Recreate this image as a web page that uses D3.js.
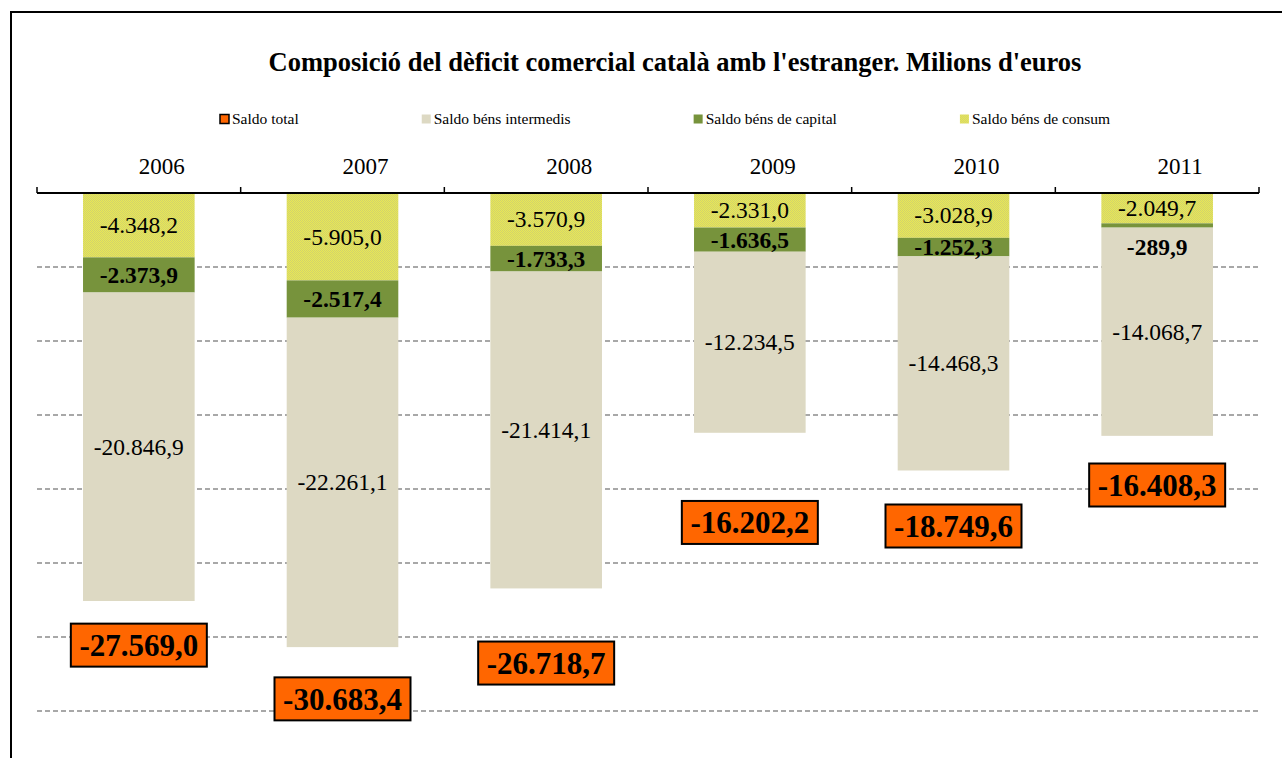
<!DOCTYPE html>
<html>
<head>
<meta charset="utf-8">
<script src="https://cdn.jsdelivr.net/npm/d3@7"></script>
<style>
  body { margin: 0; background: #fff; }
  svg { display: block; font-family: "Liberation Serif", "Times New Roman", serif; }
</style>
</head>
<body>
<svg id="chart"></svg>
<script>
// data
const years = ['2006', '2007', '2008', '2009', '2010', '2011'];
const consum = [-4348.2, -5905.0, -3570.9, -2331.0, -3028.9, -2049.7];
const capital = [-2373.9, -2517.4, -1733.3, -1636.5, -1252.3, -289.9];
const intermedis = [-20846.9, -22261.1, -21414.1, -12234.5, -14468.3, -14068.7];
const total = [-27569.0, -30683.4, -26718.7, -16202.2, -18749.6, -16408.3];
// where the total labels sit (value units), placed by hand in the original
const totalLabelAt = [-30550, -34180, -31760, -22260, -22500, -19730];
const gridTicks = [-5000, -10000, -15000, -20000, -25000, -30000, -35000];

const seriesNames = ['Saldo total', 'Saldo béns intermedis', 'Saldo béns de capital', 'Saldo béns de consum'];

const W = 1282, H = 758;
const svg = d3.select('#chart').attr('width', W).attr('height', H);

const defs = svg.append('defs');
const pat = defs.append('pattern').attr('id', 'hatch')
  .attr('width', 2).attr('height', 2).attr('patternUnits', 'userSpaceOnUse');
pat.append('rect').attr('width', 2).attr('height', 2).attr('fill', '#e9e955');
pat.append('rect').attr('width', 1).attr('height', 1).attr('fill', '#d2d26c');
pat.append('rect').attr('x', 1).attr('y', 1).attr('width', 1).attr('height', 1).attr('fill', '#d2d26c');

const colors = {
  total: '#ff6600',
  intermedis: '#ddd9c3',
  capital: '#77933c',
  consum: 'url(#hatch)'
};

// border
svg.append('rect').attr('x', 11).attr('y', 12).attr('width', W).attr('height', H)
  .attr('fill', 'none').attr('stroke', '#000').attr('stroke-width', 2);

// title
svg.append('text')
  .attr('x', 675).attr('y', 71)
  .attr('text-anchor', 'middle')
  .style('font-size', '26.5px').style('font-weight', 'bold')
  .text("Composició del dèficit comercial català amb l'estranger. Milions d'euros");

const x0 = 37, x1 = 1259;
const xs = d3.scaleBand().domain(years).range([x0, x1]).paddingInner(0.452).paddingOuter(0.226);
const ys = d3.scaleLinear().domain([0, -35000]).range([193, 711]);

// gridlines
svg.append('g').selectAll('line').data(gridTicks).enter().append('line')
  .attr('x1', x0).attr('x2', x1)
  .attr('y1', d => ys(d)).attr('y2', d => ys(d))
  .attr('stroke', '#8c8c8c').attr('stroke-width', 1.5).attr('stroke-dasharray', '5,3');

// stacked bars (negative values, consum on top)
const rows = years.map((y, i) => ({ year: y, consum: consum[i], capital: capital[i], intermedis: intermedis[i] }));
const keys = ['consum', 'capital', 'intermedis'];
const layers = d3.stack().keys(keys).offset(d3.stackOffsetDiverging)(rows);

const bars = svg.append('g');
layers.forEach(layer => {
  bars.selectAll('rect.' + layer.key).data(layer).enter().append('rect')
    .attr('class', layer.key)
    .attr('x', d => xs(d.data.year))
    .attr('width', xs.bandwidth())
    .attr('y', d => ys(d[1]))
    .attr('height', d => ys(d[0]) - ys(d[1]))
    .attr('fill', colors[layer.key]);
});

// segment labels
const fmt = v => {
  const s = Math.abs(v).toFixed(1).split('.');
  const intPart = s[0].replace(/\B(?=(\d{3})+(?!\d))/g, '.');
  return (v < 0 ? '-' : '') + intPart + ',' + s[1];
};
layers.forEach(layer => {
  bars.selectAll('text.' + layer.key).data(layer).enter().append('text')
    .attr('class', layer.key)
    .attr('x', d => xs(d.data.year) + xs.bandwidth() / 2)
    .attr('y', d => {
      const top = ys(d[1]), bot = ys(d[0]);
      if (bot - top < 10) return bot + 27;   // too thin: put below
      return (top + bot) / 2 + 8;
    })
    .attr('text-anchor', 'middle')
    .style('font-size', '23.5px')
    .style('font-weight', layer.key === 'capital' ? 'bold' : 'normal')
    .text(d => fmt(d.data[layer.key]));
});

// axis at zero with ticks pointing up
const axis = svg.append('g');
axis.append('line').attr('x1', x0).attr('x2', x1).attr('y1', ys(0)).attr('y2', ys(0))
  .attr('stroke', '#000').attr('stroke-width', 2);
const tickXs = years.map(y => xs(y) - xs.step() * xs.paddingInner() / 2);
tickXs[0] = x0;
tickXs.push(x1);
axis.selectAll('line.tick').data(tickXs).enter().append('line')
  .attr('class', 'tick')
  .attr('x1', d => d).attr('x2', d => d)
  .attr('y1', ys(0)).attr('y2', ys(0) - 6)
  .attr('stroke', '#000').attr('stroke-width', 1.5);
axis.selectAll('text').data(years).enter().append('text')
  .attr('x', d => xs(d) + xs.bandwidth() / 2 + 23)
  .attr('y', 174)
  .attr('text-anchor', 'middle')
  .style('font-size', '23px')
  .text(d => d);

// total labels
const tl = svg.append('g').selectAll('g').data(years).enter().append('g')
  .attr('transform', (d, i) => `translate(${xs(d) + xs.bandwidth() / 2},${ys(totalLabelAt[i])})`);
tl.append('rect')
  .attr('x', -68).attr('y', -21.5).attr('width', 136).attr('height', 43)
  .attr('fill', colors.total).attr('stroke', '#000').attr('stroke-width', 2);
tl.append('text')
  .attr('text-anchor', 'middle').attr('y', 11)
  .style('font-size', '31px').style('font-weight', 'bold')
  .text((d, i) => fmt(total[i]));

// legend
const legend = svg.append('g').attr('transform', 'translate(220,119)');
const legendFill = [colors.total, colors.intermedis, colors.capital, colors.consum];
let lx = 0;
seriesNames.forEach((name, i) => {
  const g = legend.append('g').attr('transform', `translate(${lx},0)`);
  g.append('rect').attr('x', 0).attr('y', -4.5).attr('width', 9).attr('height', 9)
    .attr('fill', legendFill[i])
    .attr('stroke', i === 0 ? '#000' : 'none').attr('stroke-width', 1.5);
  const t = g.append('text').attr('x', 12).attr('y', 5)
    .style('font-size', '15.5px').text(name);
  lx += 12 + t.node().getComputedTextLength() + 123;
});
</script>
</body>
</html>
